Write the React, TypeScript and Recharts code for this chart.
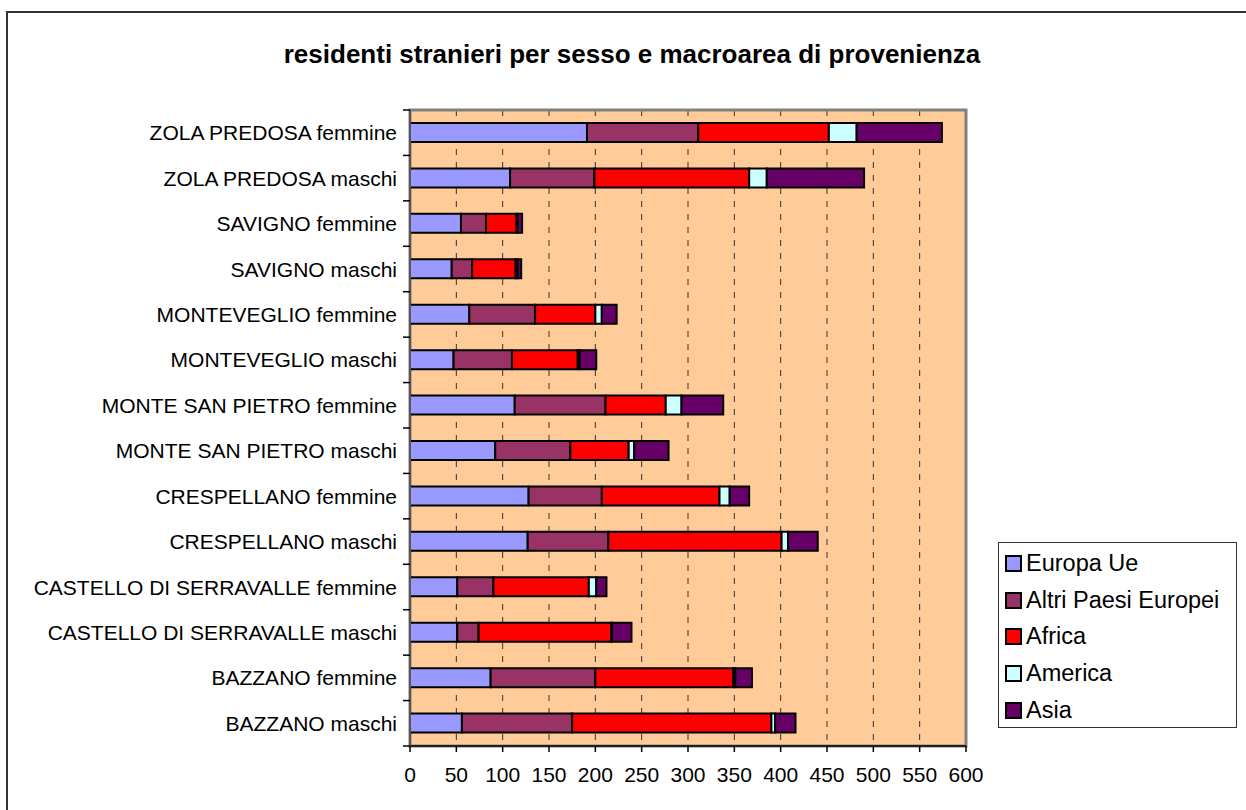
import React from "react";
import {
  BarChart,
  Bar,
  XAxis,
  YAxis,
  CartesianGrid,
  ReferenceArea,
} from "recharts";

const categories = [
  "ZOLA PREDOSA femmine",
  "ZOLA PREDOSA maschi",
  "SAVIGNO femmine",
  "SAVIGNO maschi",
  "MONTEVEGLIO femmine",
  "MONTEVEGLIO maschi",
  "MONTE SAN PIETRO femmine",
  "MONTE SAN PIETRO maschi",
  "CRESPELLANO femmine",
  "CRESPELLANO maschi",
  "CASTELLO DI SERRAVALLE femmine",
  "CASTELLO DI SERRAVALLE maschi",
  "BAZZANO femmine",
  "BAZZANO maschi",
];

const europaUe = [191, 108, 55, 45, 64, 47, 113, 92, 128, 127, 51, 51, 87, 56];
const altriPaesi = [120, 91, 27, 22, 71, 63, 98, 81, 79, 87, 39, 23, 113, 119];
const africa = [141, 167, 33, 47, 65, 71, 65, 63, 127, 187, 103, 143, 149, 215];
const america = [30, 19, 1, 2, 7, 2, 17, 6, 11, 7, 8, 1, 2, 4];
const asia = [92, 105, 5, 4, 16, 18, 45, 37, 21, 32, 11, 21, 18, 22];

const xTicks = [0, 50, 100, 150, 200, 250, 300, 350, 400, 450, 500, 550, 600];

const series = [
  { key: "europaUe", name: "Europa Ue", color: "#9999FF" },
  { key: "altriPaesi", name: "Altri Paesi Europei", color: "#993366" },
  { key: "africa", name: "Africa", color: "#FF0000" },
  { key: "america", name: "America", color: "#CCFFFF" },
  { key: "asia", name: "Asia", color: "#660066" },
];

const data = categories.map((name, i) => ({
  name,
  europaUe: europaUe[i],
  altriPaesi: altriPaesi[i],
  africa: africa[i],
  america: america[i],
  asia: asia[i],
}));

const FONT = '"Liberation Sans", Arial, sans-serif';
const W = 1246;
const H = 810;
const TOP = 110;
const BOTTOM = 746;
const LEFT = 410;
const RIGHT = 966;
const band = (BOTTOM - TOP) / categories.length;

function CategoryTick(props: any) {
  const { y, payload, index } = props;
  return (
    <g>
      <text
        x={LEFT - 13}
        y={y}
        textAnchor="end"
        dominantBaseline="central"
        fontSize={21}
        fontFamily={FONT}
        fill="#000"
      >
        {payload.value}
      </text>
      <line x1={LEFT - 7} x2={LEFT} y1={y + band / 2} y2={y + band / 2} stroke="#000" strokeWidth={1.5} />
      {index === 0 && (
        <line x1={LEFT - 7} x2={LEFT} y1={y - band / 2} y2={y - band / 2} stroke="#000" strokeWidth={1.5} />
      )}
    </g>
  );
}

export default function App() {
  return (
    <div
      style={{
        position: "absolute",
        left: 0,
        top: 0,
        width: W,
        height: H,
        overflow: "hidden",
        background: "#fff",
        fontFamily: FONT,
      }}
    >
      <div
        style={{
          position: "absolute",
          left: 6,
          top: 11,
          width: 1400,
          height: 1000,
          border: "2px solid #333",
        }}
      />
      <div
        style={{
          position: "absolute",
          left: 0,
          top: 39,
          width: 1264,
          textAlign: "center",
          fontSize: 26,
          lineHeight: "30px",
          fontWeight: "bold",
          color: "#000",
        }}
      >
        residenti stranieri per sesso e macroarea di provenienza
      </div>

      <div style={{ position: "absolute", left: 0, top: 0 }}>
        <BarChart
          width={W}
          height={H}
          data={data}
          layout="vertical"
          margin={{ top: TOP, right: W - RIGHT, bottom: 34, left: 0 }}
          barSize={19}
        >
          <CartesianGrid
            horizontal={false}
            stroke="#333"
            strokeDasharray="6 7"
            fill="#FFCC99"
            fillOpacity={1}
          />
          <ReferenceArea x1={0} x2={600} fill="none" stroke="#808080" strokeWidth={3} />
          <XAxis
            type="number"
            domain={[0, 600]}
            ticks={xTicks}
            interval={0}
            height={30}
            tickSize={6}
            tickMargin={15}
            axisLine={{ stroke: "#000", strokeWidth: 1.5 }}
            tickLine={{ stroke: "#000", strokeWidth: 1.5 }}
            tick={{ fill: "#000", fontSize: 21, fontFamily: FONT }}
          />
          <YAxis
            type="category"
            dataKey="name"
            width={LEFT}
            interval={0}
            axisLine={{ stroke: "#555", strokeWidth: 2 }}
            tickLine={false}
            tick={<CategoryTick />}
          />
          {series.map((s) => (
            <Bar
              key={s.key}
              dataKey={s.key}
              name={s.name}
              stackId="a"
              fill={s.color}
              stroke="#000"
              strokeWidth={2}
              isAnimationActive={false}
            />
          ))}
        </BarChart>
      </div>

      <div
        style={{
          position: "absolute",
          left: 998,
          top: 542,
          width: 239,
          height: 186,
          boxSizing: "border-box",
          border: "1.5px solid #333",
          background: "#fff",
          paddingTop: 2,
        }}
      >
        {series.map((s) => (
          <div
            key={s.key}
            style={{
              display: "flex",
              alignItems: "center",
              height: 36.75,
              paddingLeft: 6,
            }}
          >
            <span
              style={{
                display: "inline-block",
                width: 13,
                height: 13,
                background: s.color,
                border: "2px solid #000",
                marginRight: 4,
              }}
            />
            <span style={{ fontSize: 23.5, color: "#000", whiteSpace: "nowrap" }}>{s.name}</span>
          </div>
        ))}
      </div>
    </div>
  );
}
